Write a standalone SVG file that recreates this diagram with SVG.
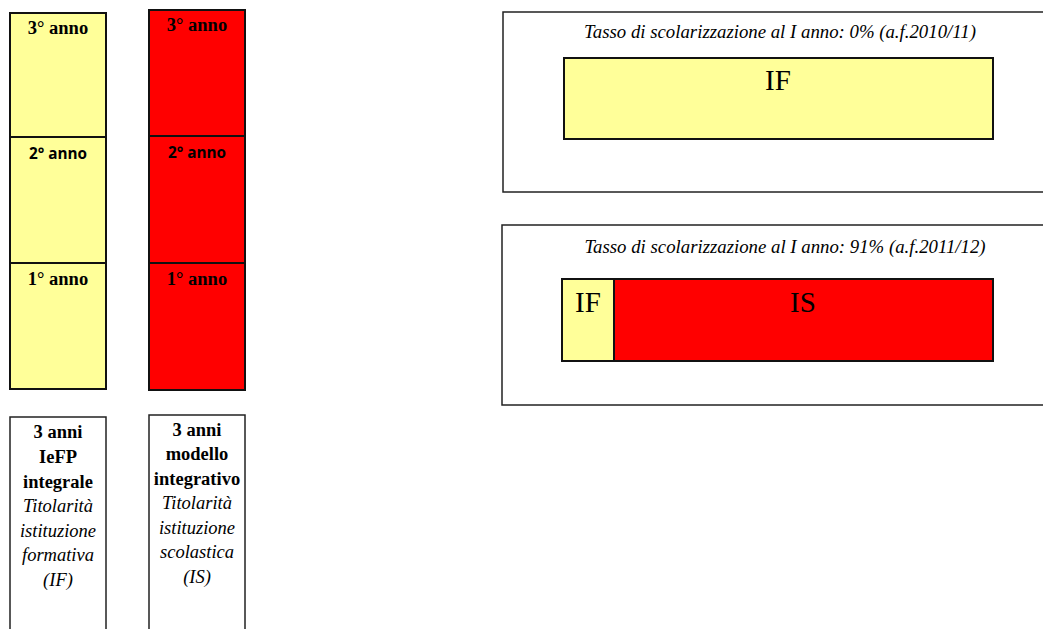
<svg xmlns="http://www.w3.org/2000/svg" width="1043" height="629" viewBox="0 0 1043 629">
<style>
.yel{fill:#FFFF99;stroke:#111;stroke-width:2}
.red{fill:#FF0000;stroke:#111;stroke-width:2}
.box{fill:#fff;stroke:#222;stroke-width:1.5}
.lab{font-family:"Liberation Serif",serif;font-weight:bold;font-size:18.5px;fill:#000;text-anchor:middle}
.labs{font-family:"Open Sans","Liberation Sans",sans-serif;font-weight:bold;font-size:15.3px;fill:#000;text-anchor:middle}
.b{font-family:"Liberation Serif",serif;font-weight:bold;font-size:18.5px;text-anchor:middle}
.i{font-family:"Liberation Serif",serif;font-style:italic;font-size:18.5px;text-anchor:middle}
.t{font-family:"Liberation Serif",serif;font-style:italic;font-size:18.8px;text-anchor:middle}
.big{font-family:"Liberation Serif",serif;font-size:29px;text-anchor:middle}
</style>
<rect width="1043" height="629" fill="#fff"/>
<g id="col-if">
<rect class="yel" x="10" y="13" width="96" height="124"/>
<rect class="yel" x="10" y="137" width="96" height="126"/>
<rect class="yel" x="10" y="263" width="96" height="126"/>
<text class="lab" x="58" y="34">3° anno</text>
<text class="labs" x="58" y="159">2° anno</text>
<text class="lab" x="58" y="285">1° anno</text>
</g>
<g id="col-is">
<rect class="red" x="149" y="10" width="96" height="126"/>
<rect class="red" x="149" y="136" width="96" height="127"/>
<rect class="red" x="149" y="263" width="96" height="127"/>
<text class="lab" x="197" y="31">3° anno</text>
<text class="labs" x="197" y="158">2° anno</text>
<text class="lab" x="197" y="285">1° anno</text>
</g>
<g id="desc-if">
<rect class="box" x="10" y="417" width="96" height="230"/>
<text class="b" x="58" y="438">3 anni</text>
<text class="b" x="58" y="463">IeFP</text>
<text class="b" x="58" y="488">integrale</text>
<text class="i" x="58" y="512">Titolarità</text>
<text class="i" x="58" y="537">istituzione</text>
<text class="i" x="58" y="561">formativa</text>
<text class="i" x="58" y="586">(IF)</text>
</g>
<g id="desc-is">
<rect class="box" x="149" y="415" width="96" height="230"/>
<text class="b" x="197" y="436">3 anni</text>
<text class="b" x="197" y="460">modello</text>
<text class="b" x="197" y="485">integrativo</text>
<text class="i" x="197" y="509">Titolarità</text>
<text class="i" x="197" y="534">istituzione</text>
<text class="i" x="197" y="558">scolastica</text>
<text class="i" x="197" y="583">(IS)</text>
</g>
<g id="panel-2010">
<rect class="box" x="503" y="12" width="560" height="180"/>
<text class="t" x="780" y="38">Tasso di scolarizzazione al I anno: 0% (a.f.2010/11)</text>
<rect class="yel" x="564" y="58" width="429" height="81"/>
<text class="big" x="778" y="90">IF</text>
</g>
<g id="panel-2011">
<rect class="box" x="502" y="225" width="560" height="180"/>
<text class="t" x="785" y="253">Tasso di scolarizzazione al I anno: 91% (a.f.2011/12)</text>
<rect class="yel" x="562" y="279" width="52" height="82"/>
<rect class="red" x="614" y="279" width="379" height="82"/>
<text class="big" x="588" y="312">IF</text>
<text class="big" x="803" y="312">IS</text>
</g>
<g id="connectors"/>
</svg>
